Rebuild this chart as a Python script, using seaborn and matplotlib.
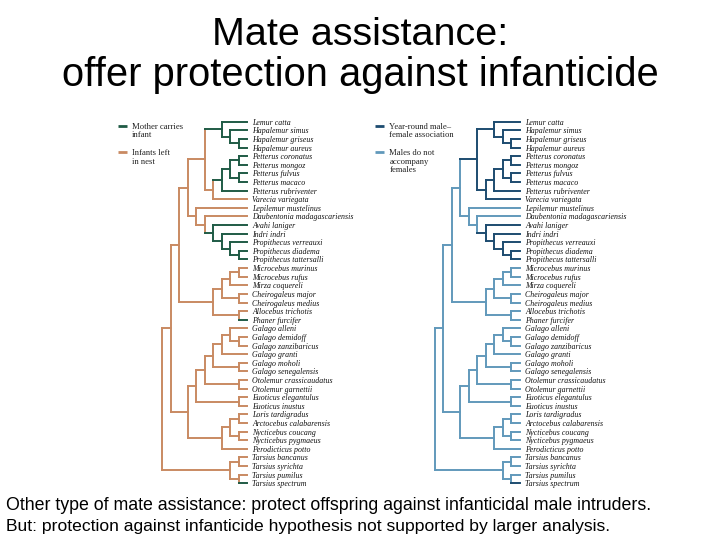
import numpy as np
import pandas as pd
import matplotlib
matplotlib.use("Agg")
import matplotlib.pyplot as plt
import seaborn as sns

# ---------------- data ----------------
title_lines = ["Mate assistance:", "offer protection against infanticide"]
footer_lines = [
    "Other type of mate assistance: protect offspring against infanticidal male intruders.",
    "But: protection against infanticide hypothesis not supported by larger analysis.",
]

taxa = [
    "Lemur catta", "Hapalemur simus", "Hapalemur griseus", "Hapalemur aureus",
    "Petterus coronatus", "Petterus mongoz", "Petterus fulvus", "Petterus macaco",
    "Petterus rubriventer", "Varecia variegata", "Lepilemur mustelinus",
    "Daubentonia madagascariensis", "Avahi laniger", "Indri indri",
    "Propithecus verreauxi", "Propithecus diadema", "Propithecus tattersalli",
    "Microcebus murinus", "Microcebus rufus", "Mirza coquereli",
    "Cheirogaleus major", "Cheirogaleus medius", "Allocebus trichotis",
    "Phaner furcifer", "Galago alleni", "Galago demidoff", "Galago zanzibaricus",
    "Galago granti", "Galago moholi", "Galago senegalensis",
    "Otolemur crassicaudatus", "Otolemur garnettii", "Euoticus elegantulus",
    "Euoticus inustus", "Loris tardigradus", "Arctocebus calabarensis",
    "Nycticebus coucang", "Nycticebus pygmaeus", "Perodicticus potto",
    "Tarsius bancanus", "Tarsius syrichta", "Tarsius pumilus", "Tarsius spectrum",
]

# clade name -> (node depth level, children) ; tips sit at level 10
clades = {
    "root": (0, ["Strepsirrhini", "Tarsiidae"]),
    "Strepsirrhini": (1, ["Malagasy", "Lorisiformes"]),
    "Malagasy": (2, ["MadA", "Cheirogaleidae"]),
    "MadA": (3, ["Lemuridae", "LepGroup"]),
    "Lemuridae": (5, ["LemurHap", "VarPet"]),
    "LemurHap": (7, ["Lemur catta", "Hapalemur"]),
    "Hapalemur": (8, ["Hapalemur simus", "HapGA"]),
    "HapGA": (9, ["Hapalemur griseus", "Hapalemur aureus"]),
    "VarPet": (6, ["Petterus", "Varecia variegata"]),
    "Petterus": (7, ["Pett4", "Petterus rubriventer"]),
    "Pett4": (8, ["PettCM", "PettFM"]),
    "PettCM": (9, ["Petterus coronatus", "Petterus mongoz"]),
    "PettFM": (9, ["Petterus fulvus", "Petterus macaco"]),
    "LepGroup": (4, ["Lepilemur mustelinus", "DaubGroup"]),
    "DaubGroup": (5, ["Daubentonia madagascariensis", "Indridae"]),
    "Indridae": (6, ["Avahi laniger", "IndProp"]),
    "IndProp": (7, ["Indri indri", "Propithecus"]),
    "Propithecus": (8, ["Propithecus verreauxi", "PropDT"]),
    "PropDT": (9, ["Propithecus diadema", "Propithecus tattersalli"]),
    "Cheirogaleidae": (6, ["CheirA", "AlloPhan"]),
    "CheirA": (7, ["MicMirza", "Cheirogaleus"]),
    "MicMirza": (8, ["Microcebus", "Mirza coquereli"]),
    "Microcebus": (9, ["Microcebus murinus", "Microcebus rufus"]),
    "Cheirogaleus": (9, ["Cheirogaleus major", "Cheirogaleus medius"]),
    "AlloPhan": (9, ["Allocebus trichotis", "Phaner furcifer"]),
    "Lorisiformes": (3, ["Galagidae", "Lorisidae"]),
    "Galagidae": (4, ["GalOto", "Euoticus"]),
    "GalOto": (5, ["Galago", "Otolemur"]),
    "Galago": (6, ["GalA", "GalMS"]),
    "GalA": (7, ["GalB", "Galago granti"]),
    "GalB": (8, ["Galago alleni", "GalDZ"]),
    "GalDZ": (9, ["Galago demidoff", "Galago zanzibaricus"]),
    "GalMS": (9, ["Galago moholi", "Galago senegalensis"]),
    "Otolemur": (9, ["Otolemur crassicaudatus", "Otolemur garnettii"]),
    "Euoticus": (9, ["Euoticus elegantulus", "Euoticus inustus"]),
    "Lorisidae": (7, ["LorNyc", "Perodicticus potto"]),
    "LorNyc": (8, ["LorArc", "Nycticebus"]),
    "LorArc": (9, ["Loris tardigradus", "Arctocebus calabarensis"]),
    "Nycticebus": (9, ["Nycticebus coucang", "Nycticebus pygmaeus"]),
    "Tarsiidae": (8, ["TarsBS", "TarsPS"]),
    "TarsBS": (9, ["Tarsius bancanus", "Tarsius syrichta"]),
    "TarsPS": (9, ["Tarsius pumilus", "Tarsius spectrum"]),
}
tip_level = 10

left_states = ["Mother carries\ninfant", "Infants left\nin nest"]
left_derived = ["LemurHap", "Petterus", "Indridae", "Phaner furcifer", "Tarsius spectrum"]
right_states = ["Year-round male\u2013\nfemale association", "Males do not\naccompany\nfemales"]
right_derived = ["Lemuridae", "Indridae", "Tarsius spectrum"]

left_colors = ["#1f5b45", "#c98a62"]
right_colors = ["#1d4c70", "#6199bb"]

# ---------------- tree geometry from topology ----------------
tip_y = {t: i for i, t in enumerate(taxa)}
node_y = {}
def ypos(n):
    if n not in clades:
        return tip_y[n]
    if n not in node_y:
        ch = clades[n][1]
        node_y[n] = (ypos(ch[0]) + ypos(ch[-1])) / 2
    return node_y[n]
def level(n):
    return clades[n][0] if n in clades else tip_level
def descendants(n):
    out = {n}
    if n in clades:
        for c in clades[n][1]:
            out |= descendants(c)
    return out

def segments(derived, states):
    dset = set()
    for d in derived:
        dset |= descendants(d)
    rows = []
    sid = 0
    for n, (lv, ch) in clades.items():
        st = states[0] if n in dset else states[1]
        rows += [(sid, lv, ypos(ch[0]), st), (sid, lv, ypos(ch[-1]), st)]
        sid += 1
        for c in ch:
            stc = states[0] if c in dset else states[1]
            rows += [(sid, lv, ypos(c), stc), (sid, level(c), ypos(c), stc)]
            sid += 1
    return pd.DataFrame(rows, columns=["seg", "x", "y", "state"])

# ---------------- figure ----------------
sns.set_theme(style="white")
plt.rcParams["font.family"] = ["Liberation Sans", "DejaVu Sans"]
W, H = 720, 540
fig = plt.figure(figsize=(7.2, 5.4), dpi=100)
fig.patch.set_facecolor("white")

dx, dy = 8.47, 8.61          # pixels per level / per tip row
y0 = 121.7                   # first tip row (px)
def tree_axes(x0):
    bx0, bx1, by0, by1 = x0 - 62, x0 + 210, 108, 495
    ax = fig.add_axes([bx0 / W, 1 - by1 / H, (bx1 - bx0) / W, (by1 - by0) / H])
    ax.set_xlim((bx0 - x0) / dx, (bx1 - x0) / dx)
    ax.set_ylim((by1 - y0) / dy, (by0 - y0) / dy)
    ax.axis("off")
    return ax

panels = [
    (162.3, left_derived, left_states, left_colors, (-5.25, -4.2, -3.6)),
    (435.0, right_derived, right_states, right_colors, (-7.1, -6.0, -5.4)),
]
for x0, derived, states, cols, (mx0, mx1, tx) in panels:
    ax = tree_axes(x0)
    df = segments(derived, states)
    sns.lineplot(data=df, x="x", y="y", units="seg", estimator=None, sort=False,
                 hue="state", palette=dict(zip(states, cols)), legend=False,
                 linewidth=1.4, solid_capstyle="projecting", ax=ax)
    for t in taxa:
        ax.text(tip_level + 0.62, tip_y[t], t, fontsize=5.7, fontstyle="italic",
                family="Liberation Serif", va="center_baseline", ha="left", color="#111111")
    # legend
    ly = [0.46, 3.55]
    for yy, st, c in zip(ly, states, cols):
        ax.plot([mx0, mx1], [yy, yy], color=c, lw=2.0, solid_capstyle="butt")
        for k, line in enumerate(st.split("\n")):
            ax.text(tx, yy + k * 0.98, line, fontsize=6.2, family="Liberation Serif",
                    va="center_baseline", ha="left", color="#222222")

# title and footer, fit to measured widths
renderer = fig.canvas.get_renderer()
def fitted_text(x, y, s, target_w, size, ha):
    t = fig.text(x / W, 1 - y / H, s, fontsize=size, ha=ha, va="baseline",
                 family="Liberation Sans", color="black")
    w = t.get_window_extent(renderer).width
    t.set_fontsize(size * target_w / w)
    return t

fitted_text(360, 45, title_lines[0], 296, 28, "center")
fitted_text(360, 86, title_lines[1], 595, 28, "center")
fitted_text(6, 510, footer_lines[0], 649, 12, "left")
fitted_text(6, 531.5, footer_lines[1], 605, 12, "left")

fig.savefig("out.png", dpi=100, facecolor="white")
